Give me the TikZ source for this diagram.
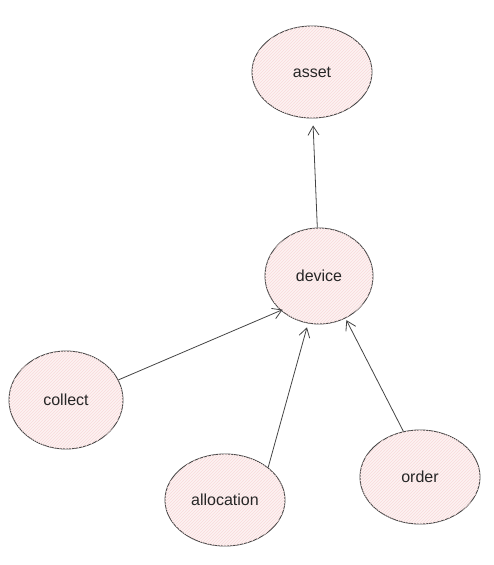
\documentclass[tikz,border=0pt]{standalone}
\usepackage{fontspec}
\setmainfont{Liberation Sans}
\usetikzlibrary{shapes.geometric,arrows.meta,patterns}
\definecolor{edgec}{HTML}{444444}
\definecolor{fillc}{HTML}{FDF2F2}
\definecolor{hatchc}{HTML}{F9DADA}
\begin{document}
\begin{tikzpicture}[x=1pt,y=-1pt,
  bubble/.style={ellipse,draw=edgec,line width=0.9pt,fill=fillc,
    postaction={pattern=north east lines,pattern color=hatchc},
    inner sep=0pt,font=\fontsize{16}{19}\selectfont,text=black!85},
  link/.style={draw=edgec,line width=0.8pt,-{Straight Barb[length=9pt,width=11pt]}}]
\useasboundingbox (0,0) rectangle (493,565);
\node[bubble,minimum width=120pt,minimum height=92pt] (asset) at (312,72) {asset};
\node[bubble,minimum width=108pt,minimum height=96pt] (device) at (319,276) {device};
\node[bubble,minimum width=114pt,minimum height=98pt] (collect) at (66,400) {collect};
\node[bubble,minimum width=120pt,minimum height=92pt] (allocation) at (225,500) {allocation};
\node[bubble,minimum width=120pt,minimum height=94pt] (order) at (420,477) {order};
\draw[link,shorten >=7pt] (device.92) -- (asset.271);
\draw[link,shorten >=-2pt] (collect.21) -- (device.222);
\draw[link,shorten >=4pt] (allocation.37) -- (device.257);
\draw[link,shorten >=2pt] (order.110) -- (device.302);
\end{tikzpicture}
\end{document}
